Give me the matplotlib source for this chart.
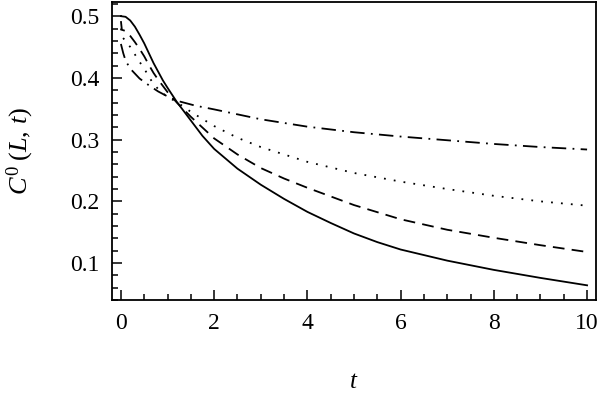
import matplotlib
matplotlib.use("Agg")
import matplotlib.pyplot as plt
from matplotlib.ticker import MultipleLocator

plt.rcParams["font.family"] = "Liberation Serif"
plt.rcParams["mathtext.fontset"] = "custom"
plt.rcParams["mathtext.rm"] = "Liberation Serif"
plt.rcParams["mathtext.it"] = "Liberation Serif:italic"

# values
t_solid = [0, 0.1, 0.2, 0.3, 0.4, 0.5, 0.6, 0.7, 0.8, 0.9, 1.0, 1.2, 1.5, 1.75, 2, 2.5, 3, 3.5,
           4, 4.5, 5, 5.5, 6, 7, 8, 9, 10]
c_solid = [0.5, 0.499, 0.493, 0.483, 0.47, 0.456, 0.44, 0.424, 0.41, 0.396, 0.384, 0.361, 0.331,
           0.306, 0.285, 0.253, 0.227, 0.204, 0.183, 0.165, 0.148, 0.134, 0.122, 0.104, 0.089,
           0.076, 0.064]

t_dash = [0, 0.02, 0.1, 0.2, 0.3, 0.4, 0.5, 0.6, 0.7, 0.8, 1.0, 1.2, 1.5, 2, 2.5, 3, 3.5, 4, 5,
          6, 7, 8, 9, 10]
c_dash = [0.492, 0.478, 0.476, 0.468, 0.458, 0.447, 0.435, 0.421, 0.408, 0.397, 0.377, 0.36, 0.337,
          0.302, 0.276, 0.254, 0.237, 0.222, 0.194, 0.171, 0.154, 0.141, 0.129, 0.118]

t_dot = [0, 0.03, 0.1, 0.2, 0.3, 0.4, 0.5, 0.6, 0.7, 0.85, 1.0, 1.2, 1.5, 2, 2.5, 3, 4, 5, 6, 7,
         8, 9, 10]
c_dot = [0.48, 0.466, 0.46, 0.45, 0.438, 0.426, 0.415, 0.402, 0.39, 0.378, 0.369, 0.361, 0.345,
         0.322, 0.303, 0.288, 0.264, 0.246, 0.232, 0.22, 0.209, 0.2, 0.193]

t_dashdot = [0, 0.05, 0.1, 0.2, 0.3, 0.4, 0.6, 0.8, 1.0, 1.2, 1.6, 2, 3, 4, 5, 6, 7, 8, 9, 10]
c_dashdot = [0.455, 0.44, 0.428, 0.415, 0.407, 0.399, 0.388, 0.378, 0.370, 0.363, 0.355, 0.349,
             0.333, 0.321, 0.312, 0.305, 0.299, 0.293, 0.288, 0.284]

fig = plt.figure(figsize=(6, 3.97), dpi=100)
ax = fig.add_axes([0.186, 0.244, 0.808, 0.751])

lw = 1.3
ax.plot(t_solid, c_solid, color="black", lw=lw)
ax.plot(t_dash, c_dash, color="black", lw=lw, linestyle=(0, (6.5, 4)))
ax.plot(t_dot, c_dot, color="black", lw=lw, linestyle=(0, (1, 4.5)))
ax.plot(t_dashdot, c_dashdot, color="black", lw=lw, linestyle=(0, (8, 3.5, 1, 3.5)))

ax.set_xlim(-0.2, 10.2)
ax.set_ylim(0.04, 0.523)
ax.xaxis.set_minor_locator(MultipleLocator(0.5))
ax.yaxis.set_minor_locator(MultipleLocator(0.02))
ax.set_yticks([0.1, 0.2, 0.3, 0.4, 0.5])
ax.set_yticklabels(["0.1", "0.2", "0.3", "0.4", "0.5"])
ax.set_xticks([0, 2, 4, 6, 8, 10])
ax.set_xticklabels(["0", "2", "4", "6", "8", "10"])

ax.tick_params(which="both", direction="in", top=False, right=False, labelsize=17, width=1.1)
ax.tick_params(which="major", length=7, pad=9)
ax.tick_params(which="minor", length=4.5)
for s in ax.spines.values():
    s.set_linewidth(1.3)

ax.set_xlabel(r"$t$", fontsize=18, labelpad=27)
ax.set_ylabel(r"$C^0\;(L,\,t)$", fontsize=19, labelpad=24)

fig.savefig("out.png", dpi=100)
